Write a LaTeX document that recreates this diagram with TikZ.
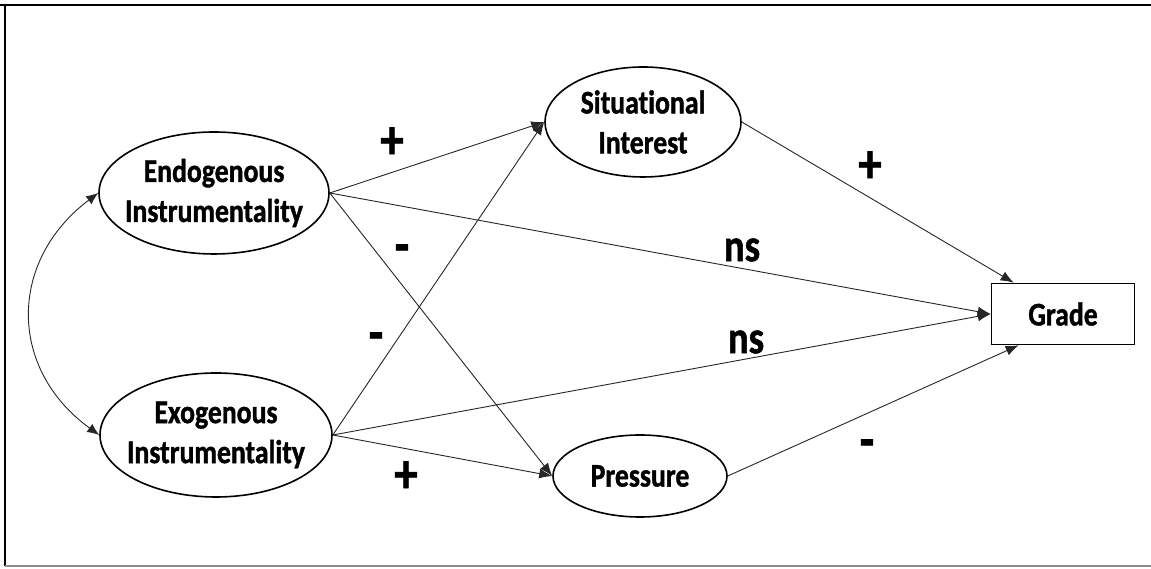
\documentclass[tikz,border=0pt]{standalone}
\usepackage{fontspec}
\setmainfont{Carlito}[FakeStretch=0.84, Ligatures=NoCommon, BoldFeatures={FakeBold=1.2}]
\usetikzlibrary{arrows.meta,shapes.geometric}
\begin{document}
\begin{tikzpicture}[x=1pt,y=1pt,
  construct/.style={ellipse, draw, line width=1.6pt, inner sep=0pt,
    label={[align=center, inner sep=0pt, font=\fontsize{33}{40}\selectfont\bfseries]center:#1}},
  outcome/.style={rectangle, draw, line width=1.6pt, inner sep=0pt,
    font=\fontsize{33}{40}\selectfont\bfseries},
  effect/.style={line width=0.9pt, draw=black!85, -{Latex[length=13pt,width=10pt]}},
  sign/.style={inner sep=0pt, font=\fontsize{46}{46}\selectfont\bfseries},
  bigsign/.style={inner sep=0pt, font=\fontsize{56}{56}\selectfont\bfseries}]
  \useasboundingbox (0,0) rectangle (1151,569);
  % frame
  \draw[line width=2.6pt] (0,564) -- (1151,564);
  \draw[line width=1.8pt] (5,565) -- (5,3);
  \draw[line width=1.2pt, black!45] (5,3) -- (1151,3);

  % constructs
  \node[construct={Endogenous\\Instrumentality}, minimum width=230pt, minimum height=122pt]
    (endo) at (214,376) {};
  \node[construct={Exogenous\\Instrumentality}, minimum width=232pt, minimum height=124pt]
    (exo) at (216,134) {};
  \node[construct={Situational\\Interest}, minimum width=196pt, minimum height=110pt]
    (sit) at (643,447) {};
  \node[construct={Pressure}, minimum width=174pt, minimum height=82pt]
    (pres) at (640,93) {};
  \node[outcome, minimum width=143pt, minimum height=61pt] (grade) at (1063,255)
    {Grade};

  % effects
  \draw[effect] (endo.east) -- (sit.west);
  \draw[effect] (exo.east) -- (sit.west);
  \draw[effect] (endo.east) -- (pres.west);
  \draw[effect] (exo.east) -- (pres.west);
  \draw[effect] (endo.east) -- (grade.west);
  \draw[effect] (exo.east) -- (grade.west);
  \draw[effect] (sit.east) -- ([xshift=23pt]grade.north west);
  \draw[effect] (pres.east) -- ([xshift=28pt]grade.south west);

  % correlation between the two instrumentalities
  \draw[line width=0.9pt, draw=black!85, {Latex[length=12pt,width=10pt]}-{Latex[length=12pt,width=10pt]}]
    (endo.west) .. controls (8,308) and (8,200) .. (exo.west);

  % signs of the effects
  \node[bigsign] (s1) at (392,426) {+};
  \node[bigsign] (s2) at (402,315) {-};
  \node[sign] (s3) at (742,319) {ns};
  \node[bigsign] (s4) at (376,227) {-};
  \node[sign] (s5) at (746,227) {ns};
  \node[bigsign] (s6) at (406,92) {+};
  \node[bigsign] (s7) at (870,402) {+};
  \node[bigsign] (s8) at (867,120) {-};
\end{tikzpicture}
\end{document}
